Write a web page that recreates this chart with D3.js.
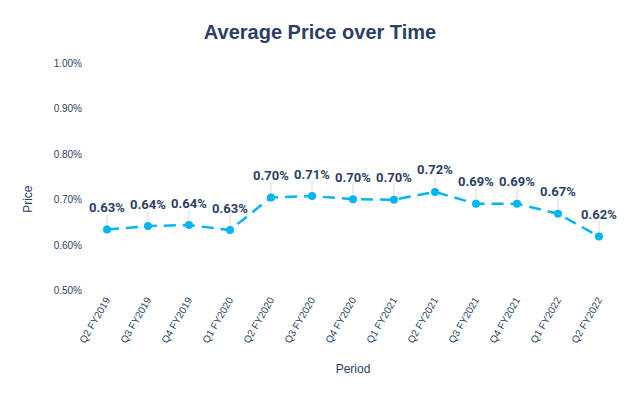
<!DOCTYPE html>
<meta charset="utf-8">
<style>
body { margin: 0; background: #fff; }
svg { font-family: "Liberation Sans", Arial, sans-serif; }
.axis path, .axis line { display: none; }
.axis text { fill: #2a3f5f; font-size: 10px; }
</style>
<svg width="639" height="396"></svg>
<script src="https://d3js.org/d3.v7.min.js"></script>
<script>

var periods = ["Q2 FY2019", "Q3 FY2019", "Q4 FY2019", "Q1 FY2020", "Q2 FY2020", "Q3 FY2020",
  "Q4 FY2020", "Q1 FY2021", "Q2 FY2021", "Q3 FY2021", "Q4 FY2021", "Q1 FY2022", "Q2 FY2022"];
var prices = [0.633, 0.641, 0.643, 0.632, 0.704, 0.707, 0.700, 0.699, 0.716, 0.690, 0.690, 0.668, 0.618];
var yTicks = [0.5, 0.6, 0.7, 0.8, 0.9, 1.0];

var svg = d3.select("svg"),
    margin = {top: 63, right: 20, bottom: 106, left: 87},
    width = +svg.attr("width") - margin.left - margin.right,
    height = +svg.attr("height") - margin.top - margin.bottom;

var x = d3.scalePoint().domain(periods).range([20, width - 20]),
    y = d3.scaleLinear().domain([0.5, 1.0]).range([height, 0]);

var g = svg.append("g")
    .attr("transform", "translate(" + margin.left + "," + margin.top + ")");

svg.append("text")
    .attr("x", 320).attr("y", 39)
    .attr("text-anchor", "middle")
    .attr("font-size", "20px").attr("font-weight", "bold")
    .attr("fill", "#2c3e66")
    .text("Average Price over Time");

g.append("g")
    .attr("class", "axis")
    .call(d3.axisLeft(y).tickValues(yTicks).tickSize(0).tickPadding(0)
      .tickFormat(function(d) { return d.toFixed(2) + "%"; }))
    .selectAll("text")
      .attr("x", -5)
      .attr("dy", "0.35em");

g.append("g")
    .attr("class", "axis")
    .attr("transform", "translate(0," + (height + 8) + ")")
    .call(d3.axisBottom(x).tickSize(0).tickPadding(0))
    .selectAll("text")
      .attr("text-anchor", "end")
      .attr("dy", "0.35em")
      .attr("transform", "rotate(-60)");

svg.append("text")
    .attr("transform", "translate(32," + (margin.top + y(0.7)) + ") rotate(-90)")
    .attr("text-anchor", "middle")
    .attr("font-size", "12px").attr("fill", "#2a3f5f")
    .text("Price");

svg.append("text")
    .attr("x", 353).attr("y", 373)
    .attr("text-anchor", "middle")
    .attr("font-size", "12px").attr("fill", "#2a3f5f")
    .text("Period");

var line = d3.line()
    .x(function(d, i) { return x(periods[i]); })
    .y(function(d) { return y(d); });

g.append("path")
    .datum(prices)
    .attr("fill", "none")
    .attr("stroke", "#00b5f1")
    .attr("stroke-width", 2.5)
    .attr("stroke-dasharray", "12,7")
    .attr("d", line);

g.selectAll(".leader")
    .data(prices)
  .enter().append("line")
    .attr("x1", function(d, i) { return x(periods[i]); })
    .attr("x2", function(d, i) { return x(periods[i]); })
    .attr("y1", function(d) { return y(d) - 15; })
    .attr("y2", function(d) { return y(d) - 3; })
    .attr("stroke", "#e6e6e6")
    .attr("stroke-width", 1.5);

g.selectAll(".dot")
    .data(prices)
  .enter().append("circle")
    .attr("cx", function(d, i) { return x(periods[i]); })
    .attr("cy", function(d) { return y(d); })
    .attr("r", 4)
    .attr("fill", "#00b5f1");

g.selectAll(".lbl")
    .data(prices)
  .enter().append("text")
    .attr("x", function(d, i) { return x(periods[i]); })
    .attr("y", function(d) { return y(d) - 22; })
    .attr("dy", "0.35em")
    .attr("text-anchor", "middle")
    .attr("font-family", "Roboto, sans-serif")
    .attr("font-size", "13px").attr("font-weight", "bold")
    .attr("fill", "#2c3e66")
    .text(function(d) { return d.toFixed(2) + "%"; });

</script>
